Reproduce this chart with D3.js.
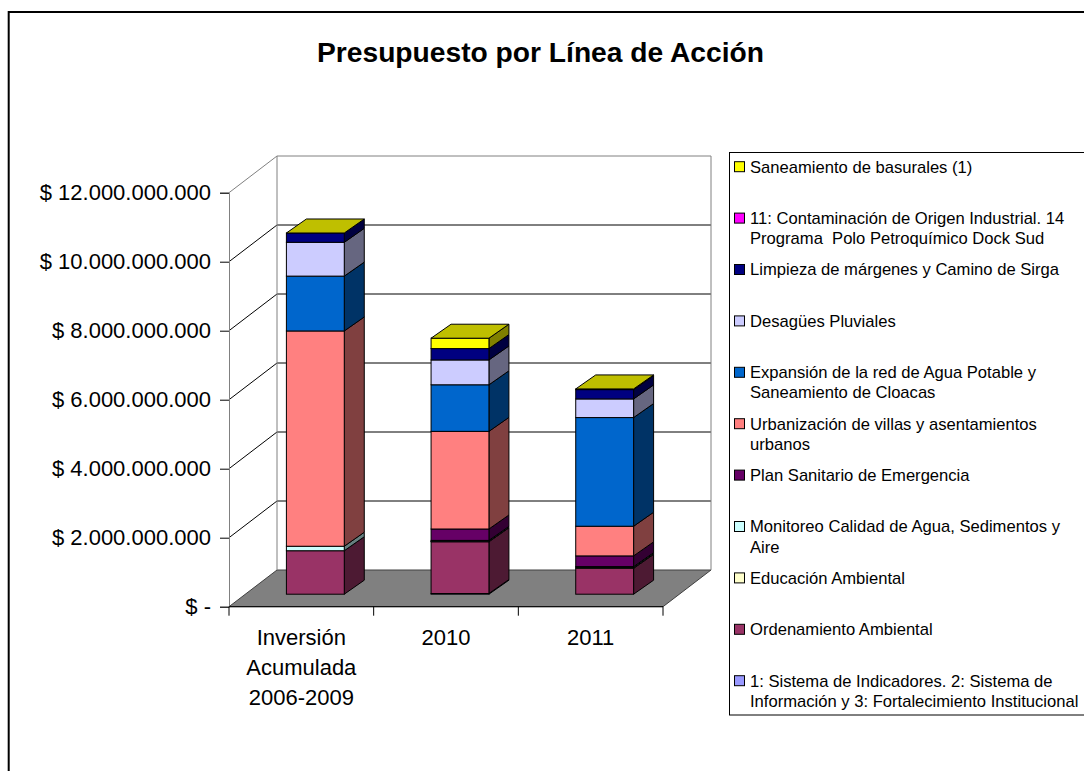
<!DOCTYPE html>
<html>
<head>
<meta charset="utf-8">
<script src="https://cdn.jsdelivr.net/npm/d3@7"></script>
<style>
  body { margin: 0; background: #fff; }
  svg { display: block; font-family: Arial, "Liberation Sans", sans-serif; }
</style>
</head>
<body>
<div id="chart"></div>
<script>
// categories (x axis), with the line breaks used in the picture
const categories = ["Inversión Acumulada 2006-2009", "2010", "2011"];
const categoryLines = [["Inversión", "Acumulada", "2006-2009"], ["2010"], ["2011"]];

// series, stacked bottom to top (legend lists them top to bottom)
const seriesNames = [
  "1: Sistema de Indicadores. 2: Sistema de\nInformación y 3: Fortalecimiento Institucional",
  "Ordenamiento Ambiental",
  "Educación Ambiental",
  "Monitoreo Calidad de Agua, Sedimentos y\nAire",
  "Plan Sanitario de Emergencia",
  "Urbanización de villas y asentamientos\nurbanos",
  "Expansión de la red de Agua Potable y\nSaneamiento de Cloacas",
  "Desagües Pluviales",
  "Limpieza de márgenes y Camino de Sirga",
  "11: Contaminación de Origen Industrial. 14\nPrograma  Polo Petroquímico Dock Sud",
  "Saneamiento de basurales (1)"
];

// values in pesos, one per category
const sistema       = [0,       0.02e9, 0];
const ordenamiento  = [1.26e9,  1.50e9, 0.75e9];
const educacion     = [0,       0.01e9, 0.02e9];
const monitoreo     = [0.13e9,  0.03e9, 0.03e9];
const planSanitario = [0,       0.33e9, 0.31e9];
const urbanizacion  = [6.24e9,  2.83e9, 0.86e9];
const expansion     = [1.59e9,  1.35e9, 3.15e9];
const desagues      = [0.98e9,  0.72e9, 0.54e9];
const limpieza      = [0.27e9,  0.33e9, 0.27e9];
const contaminacion = [0,       0,      0.02e9];
const saneamiento   = [0,       0.30e9, 0];

const seriesValues = [sistema, ordenamiento, educacion, monitoreo, planSanitario,
  urbanizacion, expansion, desagues, limpieza, contaminacion, saneamiento];

const seriesColors = ["#9999FF", "#993366", "#FFFFCC", "#CCFFFF", "#660066",
  "#FF8080", "#0066CC", "#CCCCFF", "#000080", "#FF00FF", "#FFFF00"];

const yTicks = [0, 2e9, 4e9, 6e9, 8e9, 10e9, 12e9];

const width = 1084;
const height = 771;

// geometry of the 3d box
const wall = { dx: 48, dy: -36.7 };
const barOff = { dx: 14, dy: -12.5 };
const barDepth = { dx: 20, dy: -14 };

function shade(hex, k) {
  const c = d3.rgb(hex);
  return d3.rgb(c.r * k, c.g * k, c.b * k).formatHex();
}

const svg = d3.select("#chart").append("svg")
  .attr("width", width)
  .attr("height", height);

// outer chart border
svg.append("rect")
  .attr("x", 8.7).attr("y", 12)
  .attr("width", 1200).attr("height", 900)
  .attr("fill", "none").attr("stroke", "#000").attr("stroke-width", 2);

svg.append("text")
  .attr("x", 540.5).attr("y", 62)
  .attr("text-anchor", "middle")
  .style("font-size", "28.2px").style("font-weight", "bold")
  .text("Presupuesto por Línea de Acción");

const y = d3.scaleLinear().domain([0, 12e9]).range([606.7, 192.7]);
const xOuter = d3.scaleBand().domain(categories).range([229, 663]);
const x = d3.scaleBand().domain(categories).range([229, 663])
  .paddingInner(0.6).paddingOuter(0.3);

const x0 = 229, x1 = 663;

// floor
svg.append("path")
  .attr("d", `M${x0},${y(0)}L${x1},${y(0)}L${x1 + wall.dx},${y(0) + wall.dy}L${x0 + wall.dx},${y(0) + wall.dy}Z`)
  .attr("fill", "#808080").attr("stroke", "#404040").attr("stroke-width", 1);

// gridlines on back and side walls
const grid = svg.append("g");
yTicks.filter((t) => t > 0).forEach((t) => {
  const top = t === 12e9;
  grid.append("path")
    .attr("d", `M${x0},${y(t)}L${x0 + wall.dx},${y(t) + wall.dy}L${x1 + wall.dx},${y(t) + wall.dy}`)
    .attr("fill", "none")
    .attr("stroke", top ? "#808080" : "#000")
    .attr("stroke-width", 1);
});
// wall edges
grid.append("path")
  .attr("d", `M${x0 + wall.dx},${y(12e9) + wall.dy}L${x0 + wall.dx},${y(0) + wall.dy}`)
  .attr("stroke", "#808080").attr("fill", "none");
grid.append("path")
  .attr("d", `M${x1 + wall.dx},${y(12e9) + wall.dy}L${x1 + wall.dx},${y(0) + wall.dy}`)
  .attr("stroke", "#808080").attr("fill", "none");

// bars
const bars = svg.append("g");
categories.forEach((cat, i) => {
  const bx0 = x(cat) + barOff.dx;
  const bx1 = bx0 + x.bandwidth();
  const yb = (v) => y(v) + barOff.dy;
  let base = 0;
  seriesValues.forEach((vals, s) => {
    const v = vals[i];
    if (v <= 0) return;
    const yt = yb(base + v);
    const ybot = yb(base);
    bars.append("path")
      .attr("d", `M${bx1},${yt}L${bx1 + barDepth.dx},${yt + barDepth.dy}L${bx1 + barDepth.dx},${ybot + barDepth.dy}L${bx1},${ybot}Z`)
      .attr("fill", shade(seriesColors[s], 0.5))
      .attr("stroke", "#000").attr("stroke-width", 1).attr("stroke-linejoin", "round");
    bars.append("rect")
      .attr("x", bx0).attr("y", yt)
      .attr("width", bx1 - bx0).attr("height", ybot - yt)
      .attr("fill", seriesColors[s])
      .attr("stroke", "#000").attr("stroke-width", 1);
    base += v;
  });
  const yt = yb(base);
  bars.append("path")
    .attr("d", `M${bx0},${yt}L${bx0 + barDepth.dx},${yt + barDepth.dy}L${bx1 + barDepth.dx},${yt + barDepth.dy}L${bx1},${yt}Z`)
    .attr("fill", shade(seriesColors[seriesColors.length - 1], 0.75))
    .attr("stroke", "#000").attr("stroke-width", 1).attr("stroke-linejoin", "round");
});

// y axis
const fmt = d3.formatLocale({ decimal: ",", thousands: ".", grouping: [3], currency: ["$ ", ""] }).format("$,.0f");
const yAxis = svg.append("g")
  .attr("transform", `translate(${x0},0)`)
  .call(d3.axisLeft(y).tickValues(yTicks).tickSize(9).tickPadding(9)
    .tickFormat((d) => (d === 0 ? "$ -" : fmt(d))));
yAxis.select(".domain").attr("stroke", "#808080");
yAxis.selectAll(".tick line").attr("stroke", "#000");
yAxis.selectAll("text").style("font-size", "22px").attr("fill", "#000");
yAxis.attr("font-family", null);

// x axis
const xAxis = svg.append("g");
xAxis.append("line")
  .attr("x1", x0).attr("x2", x1).attr("y1", y(0)).attr("y2", y(0))
  .attr("stroke", "#000");
categories.concat([null]).forEach((c) => {
  const tx = c === null ? x1 : xOuter(c);
  xAxis.append("line")
    .attr("x1", tx).attr("x2", tx).attr("y1", y(0)).attr("y2", y(0) + 9)
    .attr("stroke", "#000");
});
categories.forEach((c, i) => {
  const t = xAxis.append("text")
    .attr("x", xOuter(c) + xOuter.bandwidth() / 2)
    .attr("text-anchor", "middle")
    .style("font-size", "22px");
  categoryLines[i].forEach((line, j) => {
    t.append("tspan")
      .attr("x", xOuter(c) + xOuter.bandwidth() / 2)
      .attr("y", 644.5 + j * 30)
      .text(line);
  });
});

// legend
const legend = svg.append("g");
legend.append("rect")
  .attr("x", 729.5).attr("y", 152.5)
  .attr("width", 400).attr("height", 562.5)
  .attr("fill", "#fff").attr("stroke", "#000").attr("stroke-width", 1);
const legendOrder = d3.range(seriesNames.length).reverse();
legendOrder.forEach((s, k) => {
  const cy = 166.7 + k * 51.4;
  legend.append("rect")
    .attr("x", 734.5).attr("y", cy - 5)
    .attr("width", 10).attr("height", 10)
    .attr("fill", seriesColors[s]).attr("stroke", "#000").attr("stroke-width", 1);
  seriesNames[s].split("\n").forEach((line, j) => {
    legend.append("text")
      .attr("x", 750).attr("y", cy + j * 20.3)
      .attr("dy", "0.35em")
      .style("font-size", "16.6px")
      .style("white-space", "pre")
      .text(line);
  });
});
</script>
</body>
</html>
